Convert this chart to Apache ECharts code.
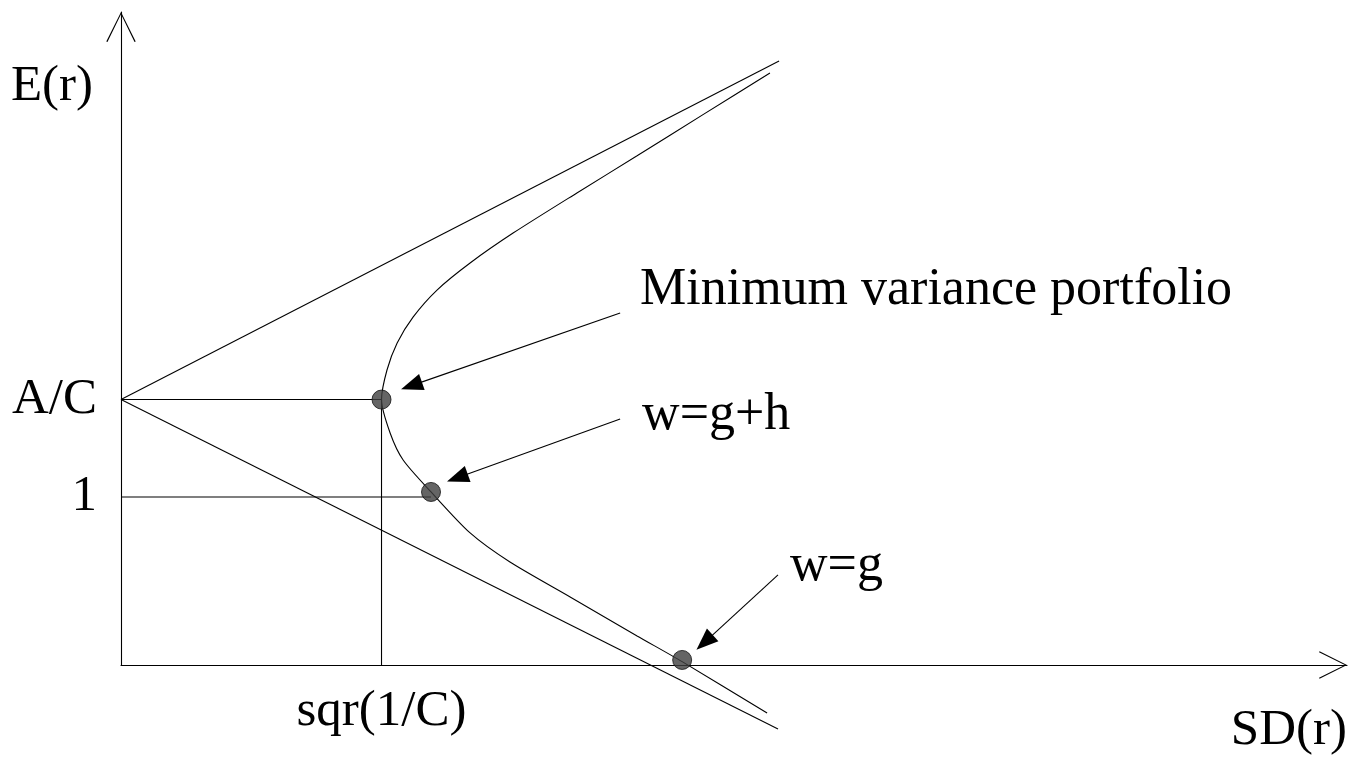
<!DOCTYPE html>
<html>
<head>
<meta charset="utf-8">
<title>Mean-variance frontier</title>
<script src="https://cdn.jsdelivr.net/npm/echarts@6/dist/echarts.min.js"></script>
<style>
  html, body { margin: 0; padding: 0; background: #ffffff; }
  #chart { width: 1348px; height: 758px; }
</style>
</head>
<body>
<div id="chart"></div>
<script>
// Axis ranges (SD in units of sqrt(1/C), E(r) in units of 1)
const sdMax = 4.706;
const erMax = 3.887;

// Tick labels
const xTickValues = [1];
const xTickLabels = ['sqr(1/C)'];
const yTickValues = [1.58, 1];
const yTickLabels = ['A/C', '1'];

// Portfolio frontier (hyperbola), top branch to bottom branch
const frontierSD = [2.491, 2.234, 1.981, 1.750, 1.505, 1.340, 1.213, 1.121, 1.060, 1.021, 1.000,
                    1.033, 1.083, 1.190, 1.340, 1.493, 1.724, 1.981, 2.154, 2.480];
const frontierER = [3.524, 3.276, 3.031, 2.810, 2.571, 2.393, 2.232, 2.071, 1.917, 1.756, 1.580,
                    1.381, 1.220, 1.030, 0.786, 0.613, 0.405, 0.173, 0.020, -0.286];

// Asymptotes through (0, A/C)
const upperAsymSD = [0, 2.526];
const upperAsymER = [1.58, 3.595];
const lowerAsymSD = [0, 2.522];
const lowerAsymER = [1.58, -0.381];

// Reference guides
const guideACSD = [0, 1];
const guideACER = [1.58, 1.58];
const guideVertSD = [1, 1];
const guideVertER = [1.58, 0];
const guideOneSD = [0, 1.19];
const guideOneER = [1, 1];

// Highlighted portfolios
const pointNames = ['Minimum variance portfolio', 'w=g+h', 'w=g'];
const pointSD = [1.0, 1.19, 2.154];
const pointER = [1.58, 1.03, 0.03];

// Annotation text anchors (left edge, vertical middle)
const noteSD = [1.992, 2.0, 2.568];
const noteER = [2.232, 1.488, 0.589];

// Annotation arrows: tail -> head
const arrowFromSD = [1.916, 1.916, 2.522];
const arrowFromER = [2.095, 1.464, 0.536];
const arrowToSD = [1.115, 1.291, 2.240];
const arrowToER = [1.663, 1.115, 0.135];

const FONT = "'Liberation Serif', 'Times New Roman', serif";
const INK = '#000000';
// open chevron used as axis arrow head (tip on top)
const CHEVRON = 'path://M15,0 L30,30 L28.8,30.6 L15,2.4 L1.2,30.6 L0,30 Z';

const zip = (xs, ys) => xs.map((x, i) => [x, ys[i]]);

const thinLine = (name, xs, ys) => ({
  name: name,
  type: 'line',
  data: zip(xs, ys),
  showSymbol: false,
  symbol: 'none',
  clip: false,
  silent: true,
  lineStyle: { color: INK, width: 1.1 },
  z: 2
});

const chart = echarts.init(document.getElementById('chart'), null, { renderer: 'canvas' });

const option = {
  backgroundColor: '#ffffff',
  animation: false,
  grid: { left: 121, right: 1, top: 12, bottom: 93, containLabel: false, outerBoundsMode: 'none' },
  xAxis: {
    type: 'value',
    min: 0,
    max: sdMax,
    axisLine: {
      show: true,
      onZero: false,
      lineStyle: { color: INK, width: 1.1 },
      symbol: ['none', CHEVRON],
      symbolSize: [31, 28],
      symbolOffset: [0, -14]
    },
    axisTick: { show: false },
    splitLine: { show: false },
    axisLabel: {
      customValues: xTickValues,
      formatter: v => xTickLabels[xTickValues.indexOf(v)] || '',
      margin: 21,
      fontFamily: FONT,
      fontSize: 51,
      color: INK
    },
    name: 'SD(r)',
    nameLocation: 'end',
    nameGap: 0,
    nameMoveOverlap: false,
    nameTextStyle: {
      fontFamily: FONT, fontSize: 51, color: INK,
      align: 'right', verticalAlign: 'top', padding: [40, 0, 0, 0]
    }
  },
  yAxis: {
    type: 'value',
    min: 0,
    max: erMax,
    axisLine: {
      show: true,
      onZero: false,
      lineStyle: { color: INK, width: 1.1 },
      symbol: ['none', CHEVRON],
      symbolSize: [30, 30],
      symbolOffset: [0, -15]
    },
    axisTick: { show: false },
    splitLine: { show: false },
    axisLabel: {
      customValues: yTickValues,
      formatter: v => yTickLabels[yTickValues.indexOf(v)] || '',
      margin: 24,
      fontFamily: FONT,
      fontSize: 51,
      color: INK
    },
    name: 'E(r)',
    nameLocation: 'end',
    nameGap: 0,
    nameMoveOverlap: false,
    nameTextStyle: {
      fontFamily: FONT, fontSize: 51, color: INK,
      align: 'right', verticalAlign: 'top', padding: [49, 28, 0, 0]
    }
  },
  series: [
    Object.assign(thinLine('frontier', frontierSD, frontierER), { smooth: 0.25 }),
    thinLine('upper asymptote', upperAsymSD, upperAsymER),
    Object.assign(thinLine('lower asymptote', lowerAsymSD, lowerAsymER), {
      markLine: {
        silent: true,
        symbol: ['none', 'triangle'],
        symbolSize: [17, 22],
        lineStyle: { color: INK, width: 1.1, type: 'solid' },
        label: { show: false },
        data: arrowFromSD.map((x, i) => [
          { coord: [x, arrowFromER[i]] },
          { coord: [arrowToSD[i], arrowToER[i]] }
        ])
      }
    }),
    thinLine('A/C guide', guideACSD, guideACER),
    thinLine('sqr(1/C) guide', guideVertSD, guideVertER),
    thinLine('unit guide', guideOneSD, guideOneER),
    {
      name: 'portfolios',
      type: 'scatter',
      data: pointNames.map((n, i) => ({ name: n, value: [pointSD[i], pointER[i]] })),
      symbol: 'circle',
      symbolSize: 19,
      itemStyle: { color: '#3f3f3f', borderColor: '#111111', borderWidth: 1 },
      z: 5
    },
    {
      name: 'notes',
      type: 'scatter',
      data: pointNames.map((n, i) => ({ name: n, value: [noteSD[i], noteER[i]] })),
      symbol: 'circle',
      symbolSize: 0.1,
      itemStyle: { color: INK, opacity: 1 },
      label: {
        show: true,
        position: 'right',
        distance: 0,
        formatter: '{b}',
        fontFamily: FONT,
        fontSize: 52,
        color: INK,
        opacity: 1,
        textBorderWidth: 0
      },
      labelLayout: { hideOverlap: false },
      z: 6
    }
  ]
};

chart.setOption(option);
</script>
</body>
</html>
